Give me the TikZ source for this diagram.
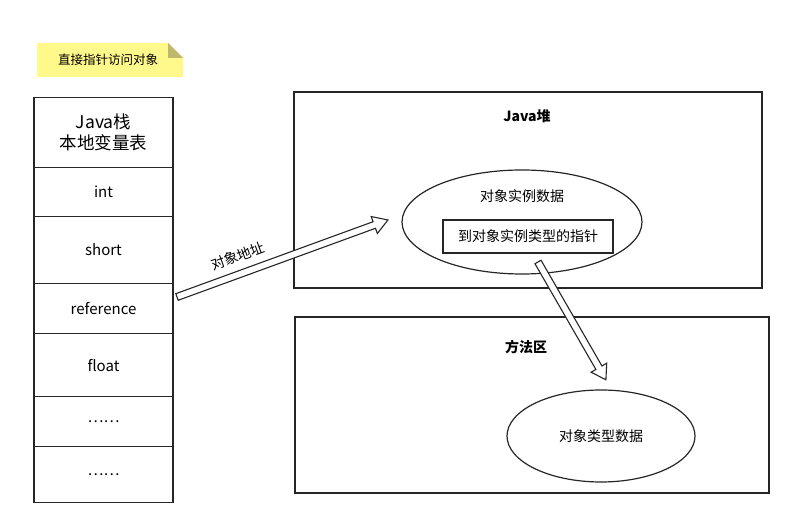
\documentclass[tikz,border=0pt]{standalone}
\usepackage{fontspec}
\setmainfont{Noto Sans CJK SC}
\usetikzlibrary{shapes.geometric}
\begin{document}
\begin{tikzpicture}[x=1pt,y=1pt,
  box/.style={draw=black!85,line width=1.3pt},
  cell/.style={draw=black!85,line width=1.2pt,minimum width=139pt,anchor=north,inner sep=0pt,font=\fontsize{15}{18}\selectfont},
  lbl/.style={font=\fontsize{14}{16}\selectfont},
  hollow/.style={draw=black!85,line width=1.1pt,fill=white}]
\useasboundingbox (0,0) rectangle (792,513);
% sticky note
\fill[yellow!45!white] (37,513-43) -- (168,513-43) -- (183,513-58) -- (183,513-77) -- (37,513-77) -- cycle;
\fill[olive!55!yellow!70!black!60] (168,513-43) -- (183,513-58) -- (168,513-58) -- cycle;
\node[font=\fontsize{12.5}{14}\selectfont] (note) at (108,513-60) {直接指针访问对象};
% stack
\node[cell,minimum height=70pt,align=center,font=\fontsize{17.5}{21}\selectfont] (hdr) at (103.5,513-97) {Java栈\\本地变量表};
\node[cell,minimum height=49pt] (int) at (103.5,513-167) {int};
\node[cell,minimum height=67pt] (short) at (103.5,513-216) {short};
\node[cell,minimum height=50pt] (ref) at (103.5,513-283) {reference};
\node[cell,minimum height=63pt] (float) at (103.5,513-333) {float};
\node[cell,minimum height=50pt] (d1) at (103.5,513-396) {……};
\node[cell,minimum height=56pt] (d2) at (103.5,513-446) {……};
% heap
\draw[box] (294,513-92) rectangle (762,513-288);
\node[font=\bfseries\fontsize{14}{16}\selectfont] (heapt) at (527,513-116) {Java堆};
\node[ellipse,draw=black!85,line width=1.2pt,minimum width=240pt,minimum height=104pt] (inst) at (522,513-222) {};
\node[lbl] (instt) at (522,513-196) {对象实例数据};
\node[draw=black!85,line width=1.2pt,minimum width=170pt,minimum height=33pt,lbl] (ptr) at (528,513-236.5) {到对象实例类型的指针};
% method area
\draw[box] (295,513-317) rectangle (769,513-493);
\node[font=\bfseries\fontsize{14}{16}\selectfont] (mt) at (526,513-347) {方法区};
\node[ellipse,draw=black!85,line width=1.2pt,minimum width=188pt,minimum height=92pt,lbl] (cls) at (601,513-436) {对象类型数据};
% hollow arrows
\draw[hollow,shift={(177,513-297)},rotate=20.05] (0,-3.5) -- (210,-3.5) -- (210,-9) -- (224.6,0) -- (210,9) -- (210,3.5) -- (0,3.5) -- cycle;
\draw[hollow,shift={(538,513-262)},rotate=-60.05] (0,-3.5) -- (122,-3.5) -- (122,-9) -- (136,0) -- (122,9) -- (122,3.5) -- (0,3.5) -- cycle;
\node[lbl,rotate=20,inner sep=0pt] (addr) at (238,513-256) {对象地址};
\end{tikzpicture}
\end{document}
